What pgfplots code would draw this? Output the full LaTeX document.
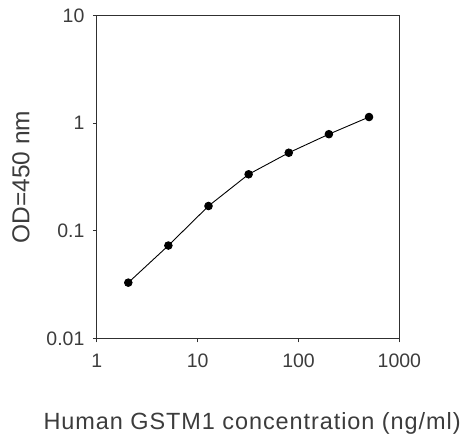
\documentclass[border=0pt]{standalone}
\usepackage{fontspec}
\setmainfont{Liberation Sans}
\usepackage{pgfplots}
\pgfplotsset{compat=1.18}
\definecolor{txt}{HTML}{3C3C3C}
\definecolor{frame}{HTML}{303030}
\begin{document}
\begin{tikzpicture}
\begin{axis}[
  name=ax,
  scale only axis,
  width=303pt, height=323.5pt,
  xmode=log, ymode=log,
  xmin=1, xmax=1000, ymin=0.01, ymax=10,
  xtick={1,10,100,1000}, xticklabels={1,10,100,1000},
  ytick={0.01,0.1,1,10}, yticklabels={0.01,0.1,1,10},
  xminorticks=false, yminorticks=false,
  xtick pos=bottom, ytick pos=left,
  tick align=outside, major tick length=4pt,
  tick style={frame, line width=0.9pt},
  axis line style={frame, line width=1.1pt},
  ticklabel style={font=\fontsize{19.5}{19.5}\selectfont, text=txt},
  xticklabel style={yshift=-8pt},
  yticklabel style={xshift=-5pt},
  xlabel={Human GSTM1 concentration (ng/ml)},
  ylabel={OD=450 nm},
  every axis x label/.style={at={(axis description cs:0.5,0)}, anchor=base, yshift=-91pt, xshift=4pt,
    font=\fontsize{23.5}{23.5}\selectfont\addfontfeature{LetterSpace=4}, text=txt},
  every axis y label/.style={at={(axis description cs:-0.251,0.5)}, anchor=center, rotate=90,
    font=\fontsize{24.5}{24.5}\selectfont, text=txt},
]
\addplot[black, line width=0.9pt, mark=*, mark size=3.8pt] coordinates {
  (2.05,0.033)
  (5.12,0.073)
  (12.8,0.170)
  (32,0.335)
  (80,0.531)
  (200,0.79)
  (500,1.14)
};
\end{axis}
\path (ax.south west) ++(-97pt,-96pt) rectangle ++(464pt,435pt);
\end{tikzpicture}
\end{document}
